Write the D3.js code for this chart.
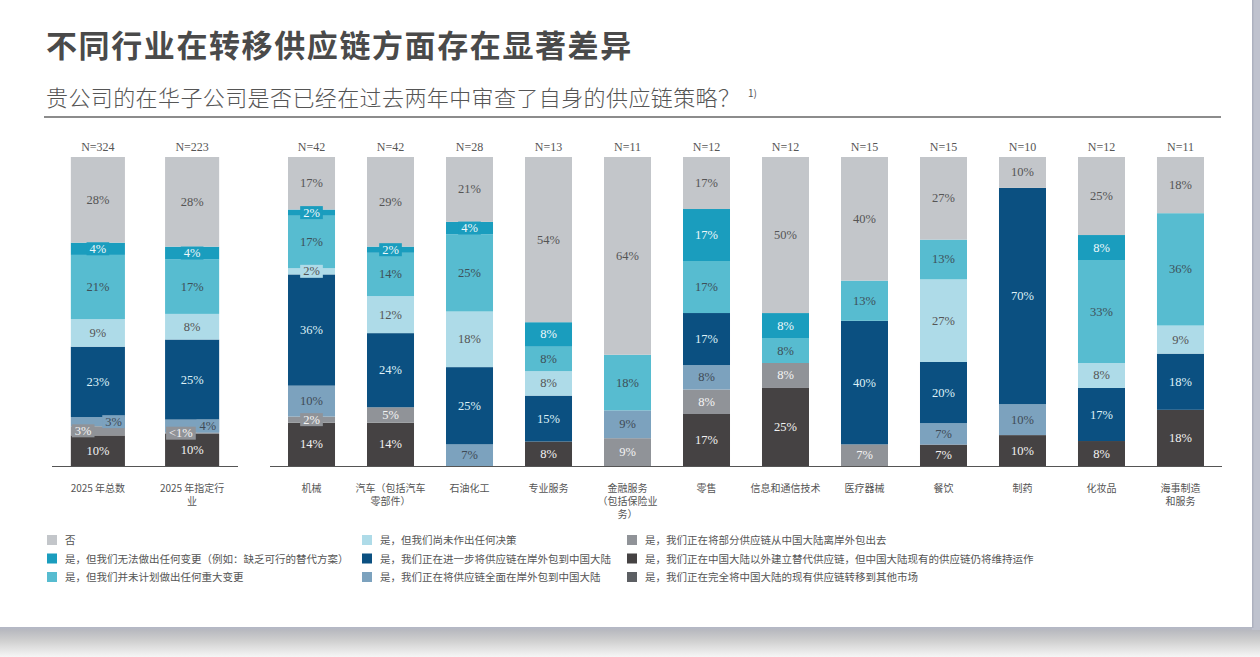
<!DOCTYPE html>
<html>
<head>
<meta charset="utf-8">
<script src="https://cdn.jsdelivr.net/npm/d3@7"></script>
<style>
  body { margin: 0; background: #fff; }
  svg { display: block; }
  .cjk { font-family: "Noto Sans CJK SC", "Noto Sans", sans-serif; }
  .num { font-family: "Liberation Serif", "DejaVu Serif", serif; }
</style>
</head>
<body>
<svg id="chart" width="1260" height="657"></svg>
<script>
// categories (line breaks as in the picture)
const categories = [
  "2025 年总数", "2025 年指定行\n业",
  "机械", "汽车（包括汽车\n零部件）", "石油化工", "专业服务", "金融服务\n（包括保险业\n务）",
  "零售", "信息和通信技术", "医疗器械", "餐饮", "制药", "化妆品", "海事制造\n和服务"
];
const sampleSizes = [324, 223, 42, 42, 28, 13, 11, 12, 12, 15, 15, 10, 12, 11];

// series values in %, stacked bottom -> top
const altChain       = [10, 10, 14, 14, 0, 8, 0, 17, 25, 0, 7, 10, 8, 18];
const partOffshore   = [3, 0.5, 2, 5, 0, 0, 9, 8, 8, 7, 0, 0, 0, 0];
const fullOnshore    = [3, 4, 10, 0, 7, 0, 9, 8, 0, 0, 7, 10, 0, 0];
const furtherOnshore = [23, 25, 36, 24, 25, 15, 0, 17, 0, 40, 20, 70, 17, 18];
const noDecision     = [9, 8, 2, 12, 18, 8, 0, 0, 0, 0, 27, 0, 8, 9];
const noMajorChange  = [21, 17, 17, 14, 25, 8, 18, 17, 8, 13, 13, 0, 33, 36];
const cannotChange   = [4, 4, 2, 2, 4, 8, 0, 17, 8, 0, 0, 0, 8, 0];
const noReview       = [28, 28, 17, 29, 21, 54, 64, 17, 50, 40, 27, 10, 25, 18];
const relocateAll    = [0, 0, 0, 0, 0, 0, 0, 0, 0, 0, 0, 0, 0, 0];

const seriesKeys = ["altChain", "partOffshore", "fullOnshore", "furtherOnshore",
  "noDecision", "noMajorChange", "cannotChange", "noReview", "relocateAll"];
const seriesValues = [altChain, partOffshore, fullOnshore, furtherOnshore,
  noDecision, noMajorChange, cannotChange, noReview, relocateAll];

const legendLabels = {
  noReview: "否",
  cannotChange: "是，但我们无法做出任何变更（例如：缺乏可行的替代方案）",
  noMajorChange: "是，但我们并未计划做出任何重大变更",
  noDecision: "是，但我们尚未作出任何决策",
  furtherOnshore: "是，我们正在进一步将供应链在岸外包到中国大陆",
  fullOnshore: "是，我们正在将供应链全面在岸外包到中国大陆",
  partOffshore: "是，我们正在将部分供应链从中国大陆离岸外包出去",
  altChain: "是，我们正在中国大陆以外建立替代供应链，但中国大陆现有的供应链仍将维持运作",
  relocateAll: "是，我们正在完全将中国大陆的现有供应链转移到其他市场"
};
const legendOrder = ["noReview", "cannotChange", "noMajorChange",
  "noDecision", "furtherOnshore", "fullOnshore",
  "partOffshore", "altChain", "relocateAll"];

const colors = {
  noReview: "#c3c6ca", cannotChange: "#1a9dbe", noMajorChange: "#57bcd0",
  noDecision: "#aedbe8", furtherOnshore: "#0b5081", fullOnshore: "#7ca2be",
  partOffshore: "#909398", altChain: "#454243", relocateAll: "#5c5f63"
};
const labelColors = {
  noReview: "#555", cannotChange: "#eef8fb", noMajorChange: "#3e5058",
  noDecision: "#555", furtherOnshore: "#dff1f7", fullOnshore: "#3f4b56",
  partOffshore: "#f4f4f4", altChain: "#f2f2f2", relocateAll: "#f2f2f2"
};

const rows = categories.map((c, i) => {
  const r = { category: c, n: sampleSizes[i] };
  seriesKeys.forEach((k, j) => r[k] = seriesValues[j][i]);
  return r;
});

const svg = d3.select("#chart");

// card frame and shadow
const defs = svg.append("defs");
const grad = defs.append("linearGradient").attr("id", "shadow")
  .attr("x1", 0).attr("y1", 0).attr("x2", 0).attr("y2", 1);
grad.append("stop").attr("offset", "0%").attr("stop-color", "#b3b7c6");
grad.append("stop").attr("offset", "12%").attr("stop-color", "#b9bac0");
grad.append("stop").attr("offset", "45%").attr("stop-color", "#cfcfcf");
grad.append("stop").attr("offset", "100%").attr("stop-color", "#f6f6f6");
svg.append("rect").attr("x", 0).attr("y", 627).attr("width", 1260).attr("height", 30)
  .attr("fill", "url(#shadow)");
svg.append("rect").attr("x", 1252).attr("y", 0).attr("width", 8).attr("height", 630)
  .attr("fill", "#bfc2ce");
svg.append("rect").attr("x", 1252).attr("y", 0).attr("width", 1.5).attr("height", 628)
  .attr("fill", "#adb1bf");

// title
svg.append("text").attr("class", "cjk")
  .attr("x", 46).attr("y", 57)
  .attr("font-size", 31).attr("font-weight", 700).attr("fill", "#4a4a4a")
  .attr("letter-spacing", 1.6)
  .text("不同行业在转移供应链方面存在显著差异");
svg.append("text").attr("class", "cjk")
  .attr("x", 46).attr("y", 106)
  .attr("font-size", 22).attr("font-weight", 300).attr("fill", "#555")
  .attr("letter-spacing", 0.4)
  .text("贵公司的在华子公司是否已经在过去两年中审查了自身的供应链策略？");
svg.append("text").attr("class", "cjk")
  .attr("x", 748).attr("y", 97)
  .attr("font-size", 10).attr("fill", "#555")
  .text("1)");
svg.append("line").attr("x1", 44).attr("x2", 1221).attr("y1", 117).attr("y2", 117)
  .attr("stroke", "#8c8c8c").attr("stroke-width", 2);

// scales
const groupA = categories.slice(0, 2);
const groupB = categories.slice(2);
const xA = d3.scaleBand().domain(groupA).range([52, 238]).paddingInner(0.426).paddingOuter(0.2);
const xB = d3.scaleBand().domain(groupB).range([270, 1222]).paddingInner(0.405).paddingOuter(0.228);
const xPos = c => groupA.includes(c) ? xA(c) : xB(c);
const bw = c => groupA.includes(c) ? xA.bandwidth() : xB.bandwidth();
const y = d3.scaleLinear().domain([0, 1]).range([466, 157]);

const stack = d3.stack().keys(seriesKeys).offset(d3.stackOffsetExpand);
const layers = stack(rows);

const plot = svg.append("g");
const layerG = plot.selectAll("g.layer")
  .data(layers).join("g")
  .attr("class", "layer")
  .attr("fill", d => colors[d.key]);

layerG.selectAll("rect")
  .data(d => d.filter(s => s.data[d.key] > 0))
  .join("rect")
  .attr("x", s => xPos(s.data.category))
  .attr("width", s => bw(s.data.category))
  .attr("y", s => y(s[1]))
  .attr("height", s => y(s[0]) - y(s[1]));

// value labels
const fmt = v => v < 1 ? "<1%" : v + "%";
const labelG = plot.append("g").attr("class", "num");
rows.forEach((r, i) => {
  const segs = [];
  layers.forEach(l => {
    const s = l[i];
    if (r[l.key] > 0) segs.push({ key: l.key, v: r[l.key], y0: s[0], y1: s[1] });
  });
  segs.forEach((s, j) => {
    const small = s.v < 5;
    const x0 = xPos(r.category), w = bw(r.category);
    const cy = (y(s.y0) + y(s.y1)) / 2;
    const g = labelG.append("g");
    const t = g.append("text")
      .attr("y", cy + 4)
      .attr("font-size", 12.5)
      .attr("fill", labelColors[s.key])
      .attr("text-anchor", "middle")
      .text(fmt(s.v));
    let cx = x0 + w / 2;
    if (small) {
      const tw = t.node().getComputedTextLength() + 6;
      const prevSmall = j > 0 && segs[j - 1].v < 5;
      const nextSmall = j < segs.length - 1 && segs[j + 1].v < 5;
      if (nextSmall) cx = x0 + tw / 2 + 1;
      else if (prevSmall) cx = x0 + w - tw / 2;
      g.insert("rect", "text")
        .attr("x", cx - tw / 2).attr("y", cy - 6.5)
        .attr("width", tw).attr("height", 13)
        .attr("fill", colors[s.key]);
    }
    t.attr("x", cx);
  });
});

// sample sizes
plot.append("g").attr("class", "num")
  .selectAll("text").data(rows).join("text")
  .attr("x", d => xPos(d.category) + bw(d.category) / 2)
  .attr("y", 151)
  .attr("text-anchor", "middle")
  .attr("font-size", 12)
  .attr("fill", "#555")
  .text(d => "N=" + d.n);

// baselines
[[52, 238], [270, 1222]].forEach(([a, b]) => {
  plot.append("line").attr("x1", a).attr("x2", b).attr("y1", 466.5).attr("y2", 466.5)
    .attr("stroke", "#555").attr("stroke-width", 1);
});

// category labels, one text per line
const catG = plot.append("g").attr("class", "cjk");
rows.forEach(r => {
  r.category.split("\n").forEach((line, k) => {
    catG.append("text")
      .attr("x", xPos(r.category) + bw(r.category) / 2)
      .attr("y", 492 + k * 13)
      .attr("text-anchor", "middle")
      .attr("font-size", 10)
      .attr("fill", "#555")
      .text(line);
  });
});

// legend
const legendCols = [47, 362, 627];
const legendG = svg.append("g").attr("class", "cjk");
legendOrder.forEach((k, i) => {
  const col = Math.floor(i / 3), row = i % 3;
  const g = legendG.append("g")
    .attr("transform", `translate(${legendCols[col]}, ${535 + row * 18.5})`);
  g.append("rect").attr("width", 10).attr("height", 10).attr("fill", colors[k]);
  g.append("text").attr("x", 18).attr("y", 9)
    .attr("font-size", 10.5).attr("fill", "#555")
    .text(legendLabels[k]);
});
</script>
</body>
</html>
